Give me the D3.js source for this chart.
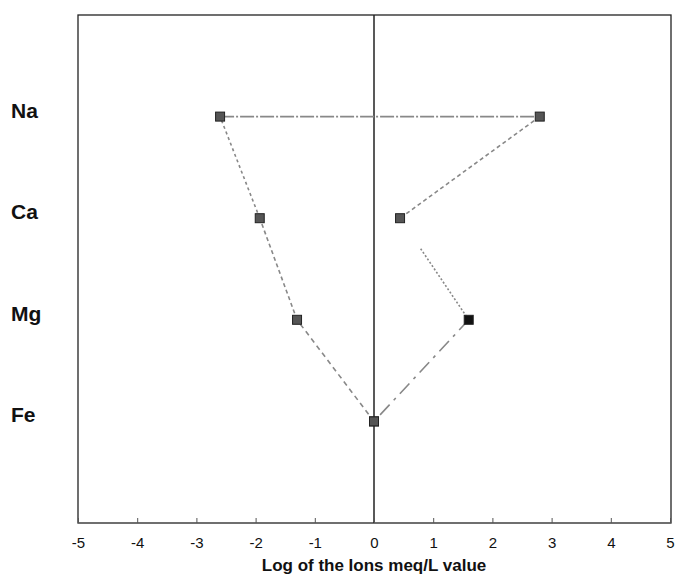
<!DOCTYPE html>
<html>
<head>
<meta charset="utf-8">
<script src="https://cdn.jsdelivr.net/npm/d3@7"></script>
<style>
  body { margin:0; background:#fff; overflow:hidden; }
  svg { display:block; }
  text { font-family: "Liberation Sans", Arial, sans-serif; }
</style>
</head>
<body>
<div id="chart"></div>
<script>
// ions, top to bottom
let ions       = ['Na','Ca','Mg','Fe']
let leftVals   = [-2.6, -1.93, -1.3, 0]
let rightVals  = [2.8, 0.44, 1.6, 0]
let xTicks     = [-5,-4,-3,-2,-1,0,1,2,3,4,5]

let width = 676, height = 583,
    margin = { top:15, left:78, right:5, bottom:60 },
    innerWidth = width - margin.left - margin.right,
    innerHeight = height - margin.top - margin.bottom

let svg = d3.select("#chart").append("svg").attr("width",width).attr("height",height)
let g = svg.append("g").attr("transform",`translate(${margin.left},${margin.top})`)

let xScale = d3.scaleLinear().domain([-5,5]).range([0,innerWidth - 1])
let yScale = d3.scalePoint().domain(ions).range([0,innerHeight]).padding(1)

// frame
g.append("rect").attr("x",0).attr("y",0).attr("width",innerWidth).attr("height",innerHeight)
  .attr("fill","none").attr("stroke","#222").attr("stroke-width",1.3)

// zero line
g.append("line").attr("x1",xScale(0)).attr("x2",xScale(0)).attr("y1",0).attr("y2",innerHeight)
  .attr("stroke","#222").attr("stroke-width",1.5)

// x axis
let xAxis = d3.axisBottom(xScale).tickValues(xTicks).tickSize(-5).tickPadding(14).tickFormat(d => String(d))
let xGroup = g.append("g").attr("transform",`translate(0,${innerHeight})`).call(xAxis)
xGroup.select(".domain").remove()
xGroup.selectAll(".tick line").attr("stroke","#555")
xGroup.selectAll(".tick text").attr("font-size",15).attr("fill","#111")
  .attr("font-family","'Liberation Sans',Arial,sans-serif")

g.append("text").attr("x",xScale(0)).attr("y",innerHeight + 48)
  .attr("text-anchor","middle").attr("font-size",17).attr("font-weight","bold")
  .attr("fill","#111").text("Log of the Ions meq/L value")

// ion labels
svg.selectAll(".ion").data(ions).enter().append("text")
  .attr("class","ion")
  .attr("x",11)
  .attr("y",d => margin.top + yScale(d) + 1)
  .attr("font-size",21).attr("font-weight","bold").attr("fill","#111")
  .text(d => d)

// segments of the outline
let segs = [
  { a:[leftVals[0],ions[0]],  b:[rightVals[0],ions[0]], dash:"14,2,2,2" },
  { a:[rightVals[0],ions[0]], b:[rightVals[1],ions[1]], dash:"4,3" },
  { a:[rightVals[1],ions[1]], b:[rightVals[2],ions[2]], dash:"2,2", gap:0.3 },
  { a:[rightVals[2],ions[2]], b:[rightVals[3],ions[3]], dash:"14,6,3,6" },
  { a:[leftVals[3],ions[3]],  b:[leftVals[2],ions[2]],  dash:"5,4" },
  { a:[leftVals[2],ions[2]],  b:[leftVals[1],ions[1]],  dash:"4,3" },
  { a:[leftVals[1],ions[1]],  b:[leftVals[0],ions[0]],  dash:"3,3" }
]
segs.forEach(s => {
  let x1 = xScale(s.a[0]), y1 = yScale(s.a[1]), x2 = xScale(s.b[0]), y2 = yScale(s.b[1])
  if (s.gap) { x1 = x1 + (x2-x1)*s.gap; y1 = y1 + (y2-y1)*s.gap }
  g.append("line").attr("x1",x1).attr("y1",y1).attr("x2",x2).attr("y2",y2)
    .attr("stroke","#888").attr("stroke-width",1.6).attr("stroke-dasharray",s.dash)
})

// markers
let pts = []
ions.forEach((d,i) => {
  pts.push({ ion:d, v:leftVals[i], dark:false })
  pts.push({ ion:d, v:rightVals[i], dark:d === 'Mg' })
})
g.selectAll("rect.pt").data(pts).enter().append("rect")
  .attr("class","pt")
  .attr("x",d => xScale(d.v) - 4.5)
  .attr("y",d => yScale(d.ion) - 4.5)
  .attr("width",9).attr("height",9)
  .attr("fill",d => d.dark ? "#111" : "#555")
  .attr("stroke","#222").attr("stroke-width",1)
</script>
</body>
</html>
